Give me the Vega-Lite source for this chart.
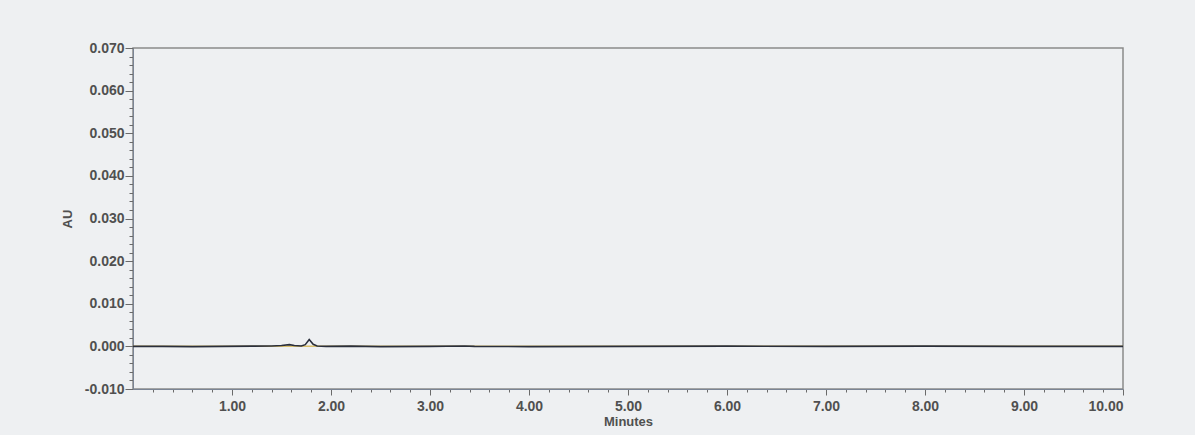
{
  "$schema": "https://vega.github.io/schema/vega-lite/v6.json",
  "width": 990,
  "height": 341,
  "autosize": {"type": "none"},
  "padding": {"left": 133, "top": 48, "right": 72, "bottom": 46},
  "background": "#eef0f2",
  "config": {
    "view": {"stroke": "#8a8a8a", "strokeWidth": 1.5},
    "axis": {
      "labelFont": "Liberation Sans",
      "titleFont": "Liberation Sans",
      "labelColor": "#505050",
      "titleColor": "#505050",
      "labelFontWeight": "bold",
      "titleFontWeight": "bold",
      "labelFontSize": 14,
      "titleFontSize": 13,
      "domainColor": "#7a8494",
      "tickColor": "#6a6a6a",
      "grid": false
    }
  },
  "data": {
    "values": [
      {"t": 0.0, "au": 0.00003, "trace": "B"},
      {"t": 1.0, "au": 0.00003, "trace": "B"},
      {"t": 2.5, "au": 0.00004, "trace": "B"},
      {"t": 4.0, "au": 0.00003, "trace": "B"},
      {"t": 6.0, "au": 0.00004, "trace": "B"},
      {"t": 10.0, "au": 0.00003, "trace": "B"},
      {"t": 0.0, "au": 0.0, "trace": "A"},
      {"t": 0.3, "au": 0.0, "trace": "A"},
      {"t": 0.6, "au": -0.00005, "trace": "A"},
      {"t": 0.9, "au": 0.0, "trace": "A"},
      {"t": 1.2, "au": 0.00005, "trace": "A"},
      {"t": 1.4, "au": 0.0001, "trace": "A"},
      {"t": 1.5, "au": 0.0002, "trace": "A"},
      {"t": 1.58, "au": 0.0004, "trace": "A"},
      {"t": 1.63, "au": 0.0002, "trace": "A"},
      {"t": 1.7, "au": 0.0001, "trace": "A"},
      {"t": 1.74, "au": 0.0004, "trace": "A"},
      {"t": 1.78, "au": 0.0016, "trace": "A"},
      {"t": 1.82, "au": 0.0005, "trace": "A"},
      {"t": 1.86, "au": 0.0001, "trace": "A"},
      {"t": 1.95, "au": 0.0, "trace": "A"},
      {"t": 2.2, "au": 0.00005, "trace": "A"},
      {"t": 2.5, "au": -0.00005, "trace": "A"},
      {"t": 3.0, "au": 0.0, "trace": "A"},
      {"t": 3.35, "au": 0.0001, "trace": "A"},
      {"t": 3.45, "au": 0.0, "trace": "A"},
      {"t": 4.0, "au": -0.00005, "trace": "A"},
      {"t": 5.0, "au": 0.0, "trace": "A"},
      {"t": 6.0, "au": 0.00005, "trace": "A"},
      {"t": 7.0, "au": 0.0, "trace": "A"},
      {"t": 8.0, "au": 0.00005, "trace": "A"},
      {"t": 9.0, "au": 0.0, "trace": "A"},
      {"t": 10.0, "au": 0.0, "trace": "A"}
    ]
  },
  "layer": [
    {
      "transform": [{"filter": "datum.trace === 'B'"}],
      "mark": {"type": "line", "color": "#d4b44c", "strokeWidth": 1.5, "opacity": 0.8},
      "encoding": {
        "x": {
          "field": "t", "type": "quantitative",
          "scale": {"domain": [0, 10], "nice": false},
          "axis": {
            "orient": "bottom", "values": [0.2,0.4,0.6,0.8,1.2,1.4,1.6,1.8,2.2,2.4,2.6,2.8,3.2,3.4,3.6,3.8,4.2,4.4,4.6,4.8,5.2,5.4,5.6,5.8,6.2,6.4,6.6,6.8,7.2,7.4,7.6,7.8,8.2,8.4,8.6,8.8,9.2,9.4,9.6,9.8],
            "labels": false, "domain": false, "title": null, "tickSize": 3
          }
        },
        "y": {
          "field": "au", "type": "quantitative",
          "scale": {"domain": [-0.01, 0.07], "nice": false, "zero": false},
          "axis": {
            "orient": "left",
            "values": [-0.008,-0.006,-0.004,-0.002,0.002,0.004,0.006,0.008,0.012,0.014,0.016,0.018,0.022,0.024,0.026,0.028,0.032,0.034,0.036,0.038,0.042,0.044,0.046,0.048,0.052,0.054,0.056,0.058,0.062,0.064,0.066,0.068],
            "labels": false, "domain": false, "title": null, "tickSize": 4
          }
        }
      }
    },
    {
      "transform": [{"filter": "datum.trace === 'A'"}],
      "mark": {"type": "line", "color": "#2a2f3c", "strokeWidth": 1.6},
      "encoding": {
        "x": {
          "field": "t", "type": "quantitative",
          "scale": {"domain": [0, 10], "nice": false},
          "axis": {
            "orient": "bottom", "values": [1,2,3,4,5,6,7,8,9,10],
            "format": ".2f", "title": "Minutes", "tickSize": 6,
            "labelPadding": 4, "titlePadding": 2
          }
        },
        "y": {
          "field": "au", "type": "quantitative",
          "scale": {"domain": [-0.01, 0.07], "nice": false, "zero": false},
          "axis": {
            "orient": "left", "values": [-0.01,0,0.01,0.02,0.03,0.04,0.05,0.06,0.07],
            "labelExpr": "replace(format(datum.value, '.3f'), '\u2212', '-')",
            "title": "AU", "tickSize": 8,
            "labelPadding": 1, "titlePadding": 10
          }
        }
      }
    }
  ],
  "resolve": {"axis": {"x": "independent", "y": "independent"}}
}
